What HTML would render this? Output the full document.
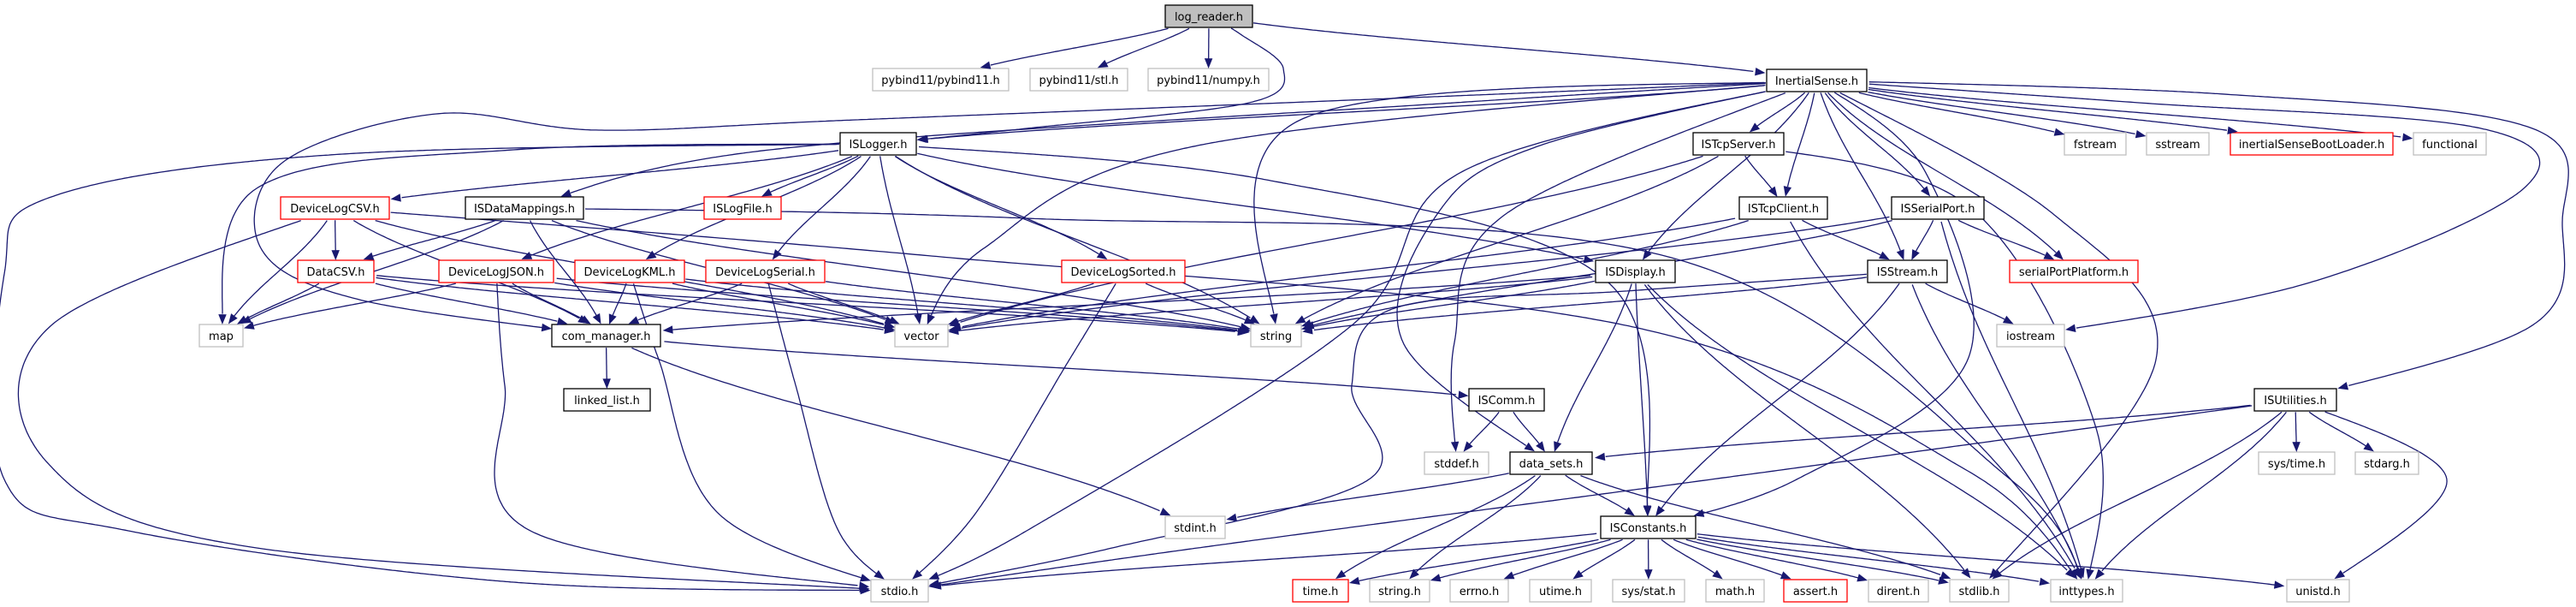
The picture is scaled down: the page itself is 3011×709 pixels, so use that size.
<!DOCTYPE html>
<html><head><meta charset="utf-8">
<style>
html,body{margin:0;padding:0;background:#fff;}
svg{display:block;}
svg text{font-family:"DejaVu Sans","Liberation Sans",sans-serif;font-size:13px;fill:#000;text-anchor:middle;}
</style></head>
<body>
<svg id="g" xmlns="http://www.w3.org/2000/svg" width="3011" height="709" viewBox="0 0 3011 709">
<g id="edges" fill="none" stroke="#191970" stroke-width="1.3"></g>
<g id="nodes">
<rect x="1362" y="6" width="102" height="26" fill="#bfbfbf" stroke="#000" stroke-width="1.3"/><text x="1413" y="24">log_reader.h</text>
<rect x="1020" y="80" width="159" height="26" fill="#fff" stroke="#bfbfbf" stroke-width="1.3"/><text x="1099.5" y="98">pybind11/pybind11.h</text>
<rect x="1204" y="80" width="114" height="26" fill="#fff" stroke="#bfbfbf" stroke-width="1.3"/><text x="1261" y="98">pybind11/stl.h</text>
<rect x="1342" y="80" width="141" height="26" fill="#fff" stroke="#bfbfbf" stroke-width="1.3"/><text x="1412.5" y="98">pybind11/numpy.h</text>
<rect x="2065" y="81" width="117" height="26" fill="#fff" stroke="#000" stroke-width="1.3"/><text x="2123.5" y="99">InertialSense.h</text>
<rect x="982" y="155" width="89" height="26" fill="#fff" stroke="#000" stroke-width="1.3"/><text x="1026.5" y="173">ISLogger.h</text>
<rect x="1979" y="155" width="106" height="26" fill="#fff" stroke="#000" stroke-width="1.3"/><text x="2032" y="173">ISTcpServer.h</text>
<rect x="2413" y="155" width="72" height="26" fill="#fff" stroke="#bfbfbf" stroke-width="1.3"/><text x="2449" y="173">fstream</text>
<rect x="2509" y="155" width="73" height="26" fill="#fff" stroke="#bfbfbf" stroke-width="1.3"/><text x="2545.5" y="173">sstream</text>
<rect x="2607" y="155" width="190" height="26" fill="#fff" stroke="#ff0000" stroke-width="1.3"/><text x="2702" y="173">inertialSenseBootLoader.h</text>
<rect x="2821" y="155" width="85" height="26" fill="#fff" stroke="#bfbfbf" stroke-width="1.3"/><text x="2863.5" y="173">functional</text>
<rect x="328" y="230" width="127" height="26" fill="#fff" stroke="#ff0000" stroke-width="1.3"/><text x="391.5" y="248">DeviceLogCSV.h</text>
<rect x="544" y="230" width="138" height="26" fill="#fff" stroke="#000" stroke-width="1.3"/><text x="613" y="248">ISDataMappings.h</text>
<rect x="823" y="230" width="90" height="26" fill="#fff" stroke="#ff0000" stroke-width="1.3"/><text x="868" y="248">ISLogFile.h</text>
<rect x="2033" y="230" width="103" height="26" fill="#fff" stroke="#000" stroke-width="1.3"/><text x="2084.5" y="248">ISTcpClient.h</text>
<rect x="2211" y="230" width="108" height="26" fill="#fff" stroke="#000" stroke-width="1.3"/><text x="2265" y="248">ISSerialPort.h</text>
<rect x="348" y="304" width="89" height="26" fill="#fff" stroke="#ff0000" stroke-width="1.3"/><text x="392.5" y="322">DataCSV.h</text>
<rect x="513" y="304" width="134" height="26" fill="#fff" stroke="#ff0000" stroke-width="1.3"/><text x="580" y="322">DeviceLogJSON.h</text>
<rect x="672" y="304" width="128" height="26" fill="#fff" stroke="#ff0000" stroke-width="1.3"/><text x="736" y="322">DeviceLogKML.h</text>
<rect x="825" y="304" width="139" height="26" fill="#fff" stroke="#ff0000" stroke-width="1.3"/><text x="894.5" y="322">DeviceLogSerial.h</text>
<rect x="1241" y="304" width="144" height="26" fill="#fff" stroke="#ff0000" stroke-width="1.3"/><text x="1313" y="322">DeviceLogSorted.h</text>
<rect x="1865" y="304" width="93" height="26" fill="#fff" stroke="#000" stroke-width="1.3"/><text x="1911.5" y="322">ISDisplay.h</text>
<rect x="2183" y="304" width="93" height="26" fill="#fff" stroke="#000" stroke-width="1.3"/><text x="2229.5" y="322">ISStream.h</text>
<rect x="2349" y="304" width="150" height="26" fill="#fff" stroke="#ff0000" stroke-width="1.3"/><text x="2424" y="322">serialPortPlatform.h</text>
<rect x="233" y="379" width="51" height="26" fill="#fff" stroke="#bfbfbf" stroke-width="1.3"/><text x="258.5" y="397">map</text>
<rect x="645" y="379" width="127" height="26" fill="#fff" stroke="#000" stroke-width="1.3"/><text x="708.5" y="397">com_manager.h</text>
<rect x="1046" y="379" width="62" height="26" fill="#fff" stroke="#bfbfbf" stroke-width="1.3"/><text x="1077" y="397">vector</text>
<rect x="1462" y="379" width="59" height="26" fill="#fff" stroke="#bfbfbf" stroke-width="1.3"/><text x="1491.5" y="397">string</text>
<rect x="2334" y="379" width="79" height="26" fill="#fff" stroke="#bfbfbf" stroke-width="1.3"/><text x="2373.5" y="397">iostream</text>
<rect x="659" y="454" width="101" height="26" fill="#fff" stroke="#000" stroke-width="1.3"/><text x="709.5" y="472">linked_list.h</text>
<rect x="1717" y="454" width="88" height="26" fill="#fff" stroke="#000" stroke-width="1.3"/><text x="1761" y="472">ISComm.h</text>
<rect x="2635" y="454" width="96" height="26" fill="#fff" stroke="#000" stroke-width="1.3"/><text x="2683" y="472">ISUtilities.h</text>
<rect x="1665" y="528" width="75" height="26" fill="#fff" stroke="#bfbfbf" stroke-width="1.3"/><text x="1702.5" y="546">stddef.h</text>
<rect x="1765" y="528" width="96" height="26" fill="#fff" stroke="#000" stroke-width="1.3"/><text x="1813" y="546">data_sets.h</text>
<rect x="2640" y="528" width="89" height="26" fill="#fff" stroke="#bfbfbf" stroke-width="1.3"/><text x="2684.5" y="546">sys/time.h</text>
<rect x="2753" y="528" width="74" height="26" fill="#fff" stroke="#bfbfbf" stroke-width="1.3"/><text x="2790" y="546">stdarg.h</text>
<rect x="1362" y="603" width="70" height="26" fill="#fff" stroke="#bfbfbf" stroke-width="1.3"/><text x="1397" y="621">stdint.h</text>
<rect x="1871" y="603" width="111" height="26" fill="#fff" stroke="#000" stroke-width="1.3"/><text x="1926.5" y="621">ISConstants.h</text>
<rect x="1018" y="677" width="67" height="26" fill="#fff" stroke="#bfbfbf" stroke-width="1.3"/><text x="1051.5" y="695">stdio.h</text>
<rect x="1511" y="677" width="65" height="26" fill="#fff" stroke="#ff0000" stroke-width="1.3"/><text x="1543.5" y="695">time.h</text>
<rect x="1601" y="677" width="70" height="26" fill="#fff" stroke="#bfbfbf" stroke-width="1.3"/><text x="1636" y="695">string.h</text>
<rect x="1695" y="677" width="68" height="26" fill="#fff" stroke="#bfbfbf" stroke-width="1.3"/><text x="1729" y="695">errno.h</text>
<rect x="1788" y="677" width="72" height="26" fill="#fff" stroke="#bfbfbf" stroke-width="1.3"/><text x="1824" y="695">utime.h</text>
<rect x="1885" y="677" width="84" height="26" fill="#fff" stroke="#bfbfbf" stroke-width="1.3"/><text x="1927" y="695">sys/stat.h</text>
<rect x="1994" y="677" width="68" height="26" fill="#fff" stroke="#bfbfbf" stroke-width="1.3"/><text x="2028" y="695">math.h</text>
<rect x="2085" y="677" width="74" height="26" fill="#fff" stroke="#ff0000" stroke-width="1.3"/><text x="2122" y="695">assert.h</text>
<rect x="2184" y="677" width="70" height="26" fill="#fff" stroke="#bfbfbf" stroke-width="1.3"/><text x="2219" y="695">dirent.h</text>
<rect x="2279" y="677" width="69" height="26" fill="#fff" stroke="#bfbfbf" stroke-width="1.3"/><text x="2313.5" y="695">stdlib.h</text>
<rect x="2397" y="677" width="84" height="26" fill="#fff" stroke="#bfbfbf" stroke-width="1.3"/><text x="2439" y="695">inttypes.h</text>
<rect x="2673" y="677" width="73" height="26" fill="#fff" stroke="#bfbfbf" stroke-width="1.3"/><text x="2709.5" y="695">unistd.h</text>
</g>
<g id="arrows" fill="#191970" stroke="#191970" stroke-width="1"></g>
</svg>
<script>
var N={
lr:[1362,1464,6,32],pyb:[1020,1179,80,106],stl:[1204,1318,80,106],npy:[1342,1483,80,106],IS:[2065,2182,81,107],
LOG:[982,1071,155,181],TS:[1979,2085,155,181],fst:[2413,2485,155,181],sst:[2509,2582,155,181],BL:[2607,2797,155,181],fn:[2821,2906,155,181],
CSV:[328,455,230,256],DM:[544,682,230,256],LF:[823,913,230,256],TC:[2033,2136,230,256],SP:[2211,2319,230,256],
DC:[348,437,304,330],JS:[513,647,304,330],KML:[672,800,304,330],SER:[825,964,304,330],SOR:[1241,1385,304,330],DSP:[1865,1958,304,330],STR:[2183,2276,304,330],SPP:[2349,2499,304,330],
map:[233,284,379,405],CM:[645,772,379,405],vec:[1046,1108,379,405],str:[1462,1521,379,405],ios:[2334,2413,379,405],
LL:[659,760,454,480],COM:[1717,1805,454,480],UT:[2635,2731,454,480],
sdf:[1665,1740,528,554],DS:[1765,1861,528,554],stm:[2640,2729,528,554],sta:[2753,2827,528,554],
sdi:[1362,1432,603,629],CON:[1871,1982,603,629],
sio:[1018,1085,677,703],tim:[1511,1576,677,703],sth:[1601,1671,677,703],err:[1695,1763,677,703],uti:[1788,1860,677,703],sst2:[1885,1969,677,703],mth:[1994,2062,677,703],ast:[2085,2159,677,703],dir:[2184,2254,677,703],slb:[2279,2348,677,703],inty:[2397,2481,677,703],uni:[2673,2746,677,703]};
var E=[
['lr','pyb'],['lr','stl'],['lr','npy'],['lr','LOG',[[1450,40],[1500,80],[1460,120],[1200,150]]],['lr','IS'],
['IS','LOG'],['IS','DM',[[1700,120],[900,175]]],['IS','CM',[[1700,112],[1000,140],[700,152],[510,133],[330,190],[305,290],[420,350]]],
['IS','TS'],['IS','TC'],['IS','SP'],['IS','STR'],['IS','SPP'],['IS','fst'],['IS','sst'],['IS','BL'],['IS','fn'],
['IS','ios',[[2500,120],[2900,150],[2950,220],[2700,330]]],['IS','UT',[[2600,110],[2960,150],[2995,260],[2960,380]]],
['IS','slb',[[2400,250],[2520,420]]],['IS','CON',[[2250,200],[2300,420],[2100,560]]],['IS','DS',[[1800,170],[1680,250],[1640,400]]],
['IS','DSP'],['IS','str',[[1520,140]]],['IS','vec',[[1400,170],[1150,290]]],['IS','sdf',[[1760,250],[1700,400]]],['IS','sio',[[1710,200],[1580,380],[1200,620]]],
['LOG','CSV'],['LOG','LF'],['LOG','JS'],['LOG','KML'],['LOG','SER'],['LOG','SOR'],['LOG','DSP'],['LOG','vec'],['LOG','str'],
['LOG','map',[[600,175],[300,220]]],['LOG','sio',[[400,180],[60,230],[5,320],[5,560],[150,620],[600,680]]],['LOG','CON',[[1480,210],[1880,330]]],
['CSV','DC'],['CSV','map'],['CSV','CM'],['CSV','vec'],['CSV','sio',[[60,380],[55,540],[300,640]]],['CSV','inty',[[1100,300],[1900,380],[2300,550]]],
['DM','DC'],['DM','map'],['DM','CM'],['DM','str'],['DM','vec'],['DM','inty',[[1200,255],[1950,300],[2350,560]]],
['DC','map'],['DC','CM'],['DC','vec'],['DC','str'],
['JS','map'],['JS','CM'],['JS','vec'],['JS','str'],['JS','sio',[[590,450],[620,620]]],
['KML','CM'],['KML','vec'],['KML','str'],['KML','sio',[[770,420],[840,600]]],
['SER','CM'],['SER','vec'],['SER','sio',[[930,450],[980,620]]],['SER','str'],
['SOR','vec'],['SOR','str'],['SOR','sio',[[1250,420],[1140,600]]],
['TS','TC'],['TS','vec'],['TS','str'],['TS','inty',[[2300,240],[2450,500]]],
['TC','STR'],['TC','str'],['TC','inty'],['TC','vec'],
['SP','STR'],['SP','SPP'],['SP','vec'],['SP','str'],['SP','inty'],
['DSP','CM'],['DSP','str'],['DSP','vec'],['DSP','DS'],['DSP','CON'],['DSP','slb'],['DSP','inty'],
['STR','CON'],['STR','str'],['STR','ios'],['STR','inty'],['STR','sio',[[1900,340],[1630,360],[1580,450],[1600,560],[1300,640]]],
['CM','LL'],['CM','COM'],['CM','sdi'],
['COM','sdf'],['COM','DS'],
['UT','DS'],['UT','sio',[[2000,560],[1400,640]]],['UT','slb'],['UT','inty'],['UT','stm'],['UT','sta'],['UT','uni',[[2860,560]]],
['DS','sdi'],['DS','CON'],['DS','tim'],['DS','sth'],['DS','slb'],
['CON','sio'],['CON','tim'],['CON','sth'],['CON','err'],['CON','uti'],['CON','sst2'],['CON','mth'],['CON','ast'],['CON','dir'],['CON','slb'],['CON','inty'],['CON','uni']
];
function C(n){return [(n[0]+n[1])/2,(n[2]+n[3])/2];}
function inside(p,n){return p[0]>=n[0]-1&&p[0]<=n[1]+1&&p[1]>=n[2]-1&&p[1]<=n[3]+1;}
var eg=document.getElementById('edges'),ag=document.getElementById('arrows'),ns='http://www.w3.org/2000/svg';
function bez(p0,a,b,p3,k,out){for(var i=1;i<=k;i++){var t=i/k,u=1-t;out.push([u*u*u*p0[0]+3*u*u*t*a[0]+3*u*t*t*b[0]+t*t*t*p3[0],u*u*u*p0[1]+3*u*u*t*a[1]+3*u*t*t*b[1]+t*t*t*p3[1]]);}}
E.forEach(function(e){
 var s=N[e[0]],t=N[e[1]],via=e[2]||[];
 var S=C(s),T=C(t),P=[S];
 if(!via.length){
  var a=[S[0]+(T[0]-S[0])*0.25,S[1]+(T[1]-S[1])*0.4],b=[S[0]+(T[0]-S[0])*0.75,S[1]+(T[1]-S[1])*0.6];
  bez(S,a,b,T,200,P);
 }else{
  var pts=[S].concat(via).concat([T]);
  for(var i=0;i<pts.length-1;i++){
   var p0=pts[i-1]||pts[i],p1=pts[i],p2=pts[i+1],p3=pts[i+2]||p2;
   var a2=[p1[0]+(p2[0]-p0[0])/6,p1[1]+(p2[1]-p0[1])/6];
   var b2=[p2[0]-(p3[0]-p1[0])/6,p2[1]-(p3[1]-p1[1])/6];
   bez(p1,a2,b2,p2,150,P);
  }
 }
 var i0=0;while(i0<P.length-1&&inside(P[i0],s))i0++;
 var i1=P.length-1;while(i1>0&&inside(P[i1],t))i1--;
 if(i1<=i0)return;
 var tip=P[i1];
 var m=i1;while(m>i0&&Math.hypot(P[m][0]-tip[0],P[m][1]-tip[1])<10)m--;
 var base=P[m];
 var seg=[P[i0]];
 for(var k=i0+1;k<m;k++){var q=seg[seg.length-1];if(Math.abs(P[k][0]-q[0])+Math.abs(P[k][1]-q[1])>3)seg.push(P[k]);}
 seg.push(base);
 var d='M'+seg.map(function(p){return p[0].toFixed(1)+','+p[1].toFixed(1);}).join(' L');
 var pa=document.createElementNS(ns,'path');pa.setAttribute('d',d);eg.appendChild(pa);
 var ux=tip[0]-base[0],uy=tip[1]-base[1],l=Math.hypot(ux,uy)||1;ux/=l;uy/=l;
 var bx=tip[0]-ux*10,by=tip[1]-uy*10,aw=4;
 var tri=document.createElementNS(ns,'polygon');
 tri.setAttribute('points',tip[0].toFixed(1)+','+tip[1].toFixed(1)+' '+(bx-uy*aw).toFixed(1)+','+(by+ux*aw).toFixed(1)+' '+(bx+uy*aw).toFixed(1)+','+(by-ux*aw).toFixed(1));
 ag.appendChild(tri);
});
</script>
</body></html>
